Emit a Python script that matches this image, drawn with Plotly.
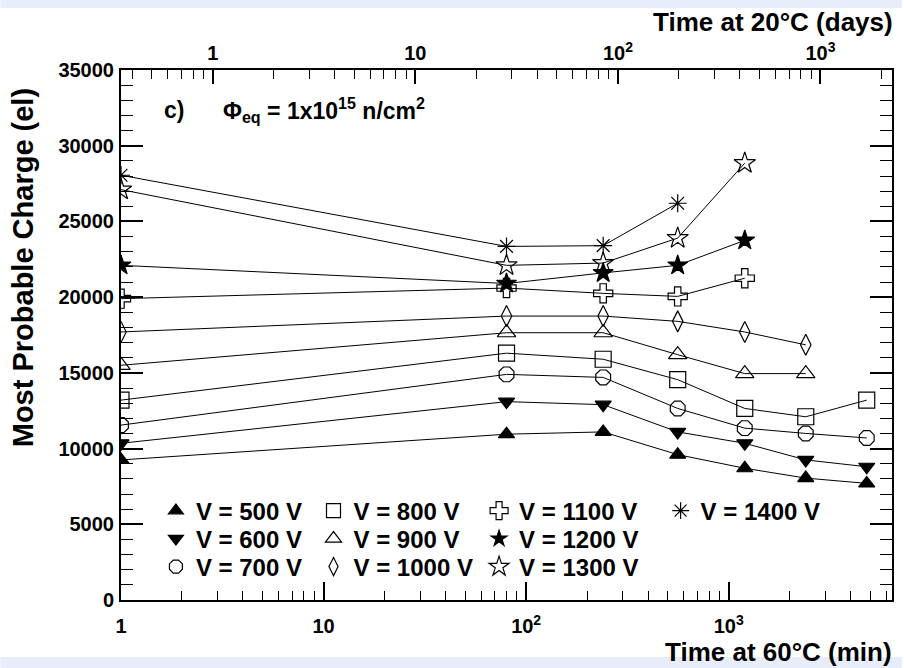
import plotly.graph_objects as go

# ---------------- data ----------------
times_min = [1, 80, 240, 560, 1200, 2400, 4800]   # time at 60 C (min)

labels = ["V = 500 V", "V = 600 V", "V = 700 V", "V = 800 V", "V = 900 V",
          "V = 1000 V", "V = 1100 V", "V = 1200 V", "V = 1300 V", "V = 1400 V"]

q500 = [9250, 10950, 11100, 9600, 8700, 8050, 7700]
q600 = [10350, 13100, 12900, 11100, 10350, 9250, 8800]
q700 = [11550, 14900, 14700, 12650, 11350, 11000, 10700]
q800 = [13200, 16300, 15900, 14550, 12650, 12100, 13200]
q900 = [15500, 17650, 17650, 16200, 14950, 14950]
q1000 = [17700, 18750, 18750, 18400, 17700, 16850]
q1100 = [19900, 20600, 20250, 20050, 21250]
q1200 = [22100, 20900, 21600, 22100, 23750]
q1300 = [27100, 22100, 22250, 23900, 28850]
q1400 = [28050, 23350, 23400, 26200]

series = [q500, q600, q700, q800, q900, q1000, q1100, q1200, q1300, q1400]

bottom_ticks = [1, 10, 100, 1000]
bottom_ticktext = ["1", "10", "10<sup>2</sup>", "10<sup>3</sup>"]
top_ticks = [1, 10, 100, 1000]
top_ticktext = ["1", "10", "10<sup>2</sup>", "10<sup>3</sup>"]
y_ticks = [0, 5000, 10000, 15000, 20000, 25000, 30000, 35000]

# ---------------- styles ----------------
symbols = ["triangle-up", "triangle-down", "octagon-open", "square-open",
           "triangle-up-open", "diamond-tall-open", "cross-open", "star",
           "star-open", "asterisk-open"]
sizes = [14, 14, 16, 16, 16, 15, 16, 15, 16, 15]
leg_sizes = [13, 13, 14, 14, 14, 13, 15, 12, 15, 14]
# legend grid: (column marker x in px, row centre y in px)
col_x = [176, 334, 500, 682]
row_y = [511, 539, 567]
leg_cell = [(0, 0), (0, 1), (0, 2), (1, 0), (1, 1), (1, 2),
            (2, 0), (2, 1), (2, 2), (3, 0)]

FONT = "Liberation Sans"
W, H = 904, 668
L, R, T, B = 121, 10, 70, 68
PW, PH = W - L - R, H - T - B


def px(xp):
    return (xp - L) / PW


def py(yp):
    return (H - B - yp) / PH


day_offset = 0.453  # log10(min at 60C per day at 20C)
xmax_log = 3.806

fig = go.Figure()

for vals, sym, sz in zip(series, symbols, sizes):
    fig.add_trace(go.Scatter(
        x=times_min[:len(vals)], y=vals, mode="lines+markers",
        line=dict(color="black", width=1),
        marker=dict(symbol=sym, size=sz, color="black",
                    line=dict(color="black", width=1.2)),
        showlegend=False, hoverinfo="skip"))

legend_font = dict(family=FONT, size=24, color="black", weight="bold")
for i, (lab, sym, sz, cell) in enumerate(zip(labels, symbols, leg_sizes, leg_cell)):
    lname = "legend" if i == 0 else "legend%d" % (i + 1)
    fig.add_trace(go.Scatter(
        x=[None], y=[None], mode="markers", name=lab, legend=lname,
        marker=dict(symbol=sym, size=sz, color="black",
                    line=dict(color="black", width=1.2)),
        showlegend=True))
    cx, ry = col_x[cell[0]], row_y[cell[1]]
    fig.update_layout(**{lname: dict(x=px(cx - 20), y=py(ry), xanchor="left",
                                     yanchor="middle", bgcolor="rgba(0,0,0,0)",
                                     borderwidth=0, font=legend_font,
                                     itemsizing="trace")})

# invisible trace so the top axis is drawn
fig.add_trace(go.Scatter(x=[1, 1000], y=[0, 0], xaxis="x2", yaxis="y",
                         mode="lines", opacity=0, showlegend=False,
                         hoverinfo="skip"))


def minor_vals(decades):
    out = []
    for d in decades:
        for m in range(2, 10):
            out.append(m * 10 ** d)
    return out


tickfont = dict(family=FONT, size=20, color="black", weight="bold")

fig.update_layout(
    width=W, height=H,
    margin=dict(l=L, r=R, t=T, b=B),
    paper_bgcolor="white", plot_bgcolor="white",
    xaxis=dict(type="log", range=[0, xmax_log],
               tickmode="array", tickvals=bottom_ticks, ticktext=bottom_ticktext,
               ticks="inside", ticklen=18, tickwidth=1.5, tickcolor="black",
               minor=dict(tickvals=minor_vals([0, 1, 2, 3]), ticks="inside",
                          ticklen=9, tickwidth=1.2, tickcolor="black"),
               showline=True, linewidth=2, linecolor="black", mirror=False,
               showgrid=False, zeroline=False, tickfont=tickfont,
               ticklabelstandoff=7),
    xaxis2=dict(type="log", overlaying="x", side="top", anchor="y",
                range=[-day_offset, xmax_log - day_offset],
                tickmode="array", tickvals=top_ticks, ticktext=top_ticktext,
                ticks="inside", ticklen=14, tickwidth=1.5, tickcolor="black",
                minor=dict(tickvals=minor_vals([-1, 0, 1, 2, 3]), ticks="inside",
                           ticklen=9, tickwidth=1.2, tickcolor="black"),
                showline=True, linewidth=2, linecolor="black",
                showgrid=False, zeroline=False, tickfont=tickfont,
                ticklabelstandoff=0),
    yaxis=dict(range=[0, 35000], tickmode="array", tickvals=y_ticks,
               tickformat="d", ticks="inside", ticklen=22, tickwidth=1.5,
               tickcolor="black",
               minor=dict(dtick=1000, ticks="inside", ticklen=12,
                          tickwidth=1.2, tickcolor="black"),
               showline=True, linewidth=2, linecolor="black", mirror="ticks",
               showgrid=False, zeroline=False, tickfont=tickfont,
               ticklabelstandoff=1),
    showlegend=True,
)

title_font = dict(family=FONT, size=26, color="black", weight="bold")
fig.add_annotation(text="Time at 60°C (min)", xref="paper", yref="paper",
                   x=px(896), y=py(652), xanchor="right", yanchor="middle",
                   showarrow=False, font=title_font)
fig.add_annotation(text="Time at 20°C (days)", xref="paper", yref="paper",
                   x=px(897), y=py(22), xanchor="right", yanchor="middle",
                   showarrow=False, font=title_font)
fig.add_annotation(text="Most Probable Charge (el)", xref="paper", yref="paper",
                   x=px(23), y=py(268), xanchor="center", yanchor="middle",
                   textangle=-90, showarrow=False,
                   font=dict(family=FONT, size=29, color="black", weight="bold"))
fig.add_annotation(text="c)", xref="paper", yref="paper",
                   x=px(162), y=py(110), xanchor="left", yanchor="middle",
                   showarrow=False,
                   font=dict(family=FONT, size=23, color="black", weight="bold"))
fig.add_annotation(text="Φ<sub>eq</sub> = 1x10<sup>15</sup> n/cm<sup>2</sup>",
                   xref="paper", yref="paper",
                   x=px(221), y=py(110), xanchor="left", yanchor="middle",
                   showarrow=False,
                   font=dict(family=FONT, size=23, color="black", weight="bold"))

band = "#e8eef9"
fig.add_shape(type="rect", xref="paper", yref="paper", layer="below",
              x0=px(0), x1=px(W), y0=py(0), y1=py(8), fillcolor=band,
              line=dict(width=0))
fig.add_shape(type="rect", xref="paper", yref="paper", layer="below",
              x0=px(0), x1=px(W), y0=py(657), y1=py(H), fillcolor=band,
              line=dict(width=0))

fig.write_html("out.html")
